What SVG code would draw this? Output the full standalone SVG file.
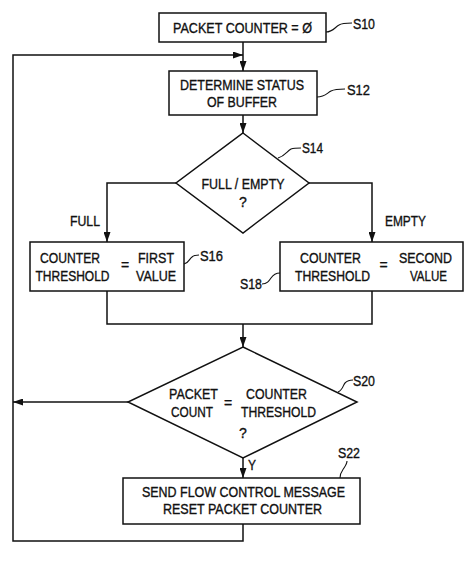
<svg xmlns="http://www.w3.org/2000/svg" width="474" height="576" viewBox="0 0 474 576">
<style>
text{font-family:"Liberation Sans",Arial,sans-serif;font-size:14px;fill:#111;stroke:#111;stroke-width:0.35;}
.c{text-anchor:middle;}
.box{fill:#fff;stroke:#111;stroke-width:1.5;}
.ln{fill:none;stroke:#111;stroke-width:1.5;}
.ld{fill:none;stroke:#111;stroke-width:1.1;}
</style>
<defs>
<marker id="ah" markerUnits="userSpaceOnUse" markerWidth="10" markerHeight="7" refX="10" refY="3.5" orient="auto">
<path d="M0,0 L10,3.5 L0,7 z" fill="#111"/>
</marker>
</defs>
<rect width="474" height="576" fill="#fff"/>
<g id="connectors">
<path class="ln" d="M243,42 V71" marker-end="url(#ah)"/>
<path class="ln" d="M243,524 V541 H13 V55 H243" marker-end="url(#ah)"/>
<path class="ln" d="M243,115 V133" marker-end="url(#ah)"/>
<path class="ln" d="M176,183 H107 V242" marker-end="url(#ah)"/>
<path class="ln" d="M309,183 H372 V242" marker-end="url(#ah)"/>
<path class="ln" d="M107,291 V324 H372 V291"/>
<path class="ln" d="M243,324 V347" marker-end="url(#ah)"/>
<path class="ln" d="M128,402 H13" marker-end="url(#ah)"/>
<path class="ln" d="M243,458 V478" marker-end="url(#ah)"/>
<text x="70" y="226" textLength="30" lengthAdjust="spacingAndGlyphs">FULL</text>
<text x="385" y="226" textLength="41" lengthAdjust="spacingAndGlyphs">EMPTY</text>
<text x="248" y="470" textLength="8" lengthAdjust="spacingAndGlyphs">Y</text>
</g>
<g id="S10">
<rect class="box" x="159" y="13" width="167" height="29"/>
<text class="c" x="242.5" y="33" textLength="139" lengthAdjust="spacingAndGlyphs">PACKET COUNTER = Ø</text>
<path class="ld" d="M326,32 C333,32 335,27 339,25 C342,23 346,23 352,23"/>
<text x="353" y="29" textLength="22" lengthAdjust="spacingAndGlyphs">S10</text>
</g>
<g id="S12">
<rect class="box" x="169" y="71" width="148" height="44"/>
<text class="c" x="242" y="90" textLength="124" lengthAdjust="spacingAndGlyphs">DETERMINE STATUS</text>
<text class="c" x="242" y="107" textLength="70" lengthAdjust="spacingAndGlyphs">OF BUFFER</text>
<path class="ld" d="M317,97 C325,97 327,93 331,91 C335,89 339,89 345,89"/>
<text x="347" y="95" textLength="23" lengthAdjust="spacingAndGlyphs">S12</text>
</g>
<g id="S14">
<polygon class="box" points="243,133 309,183 243,233 176,183"/>
<text class="c" x="243" y="189" textLength="83" lengthAdjust="spacingAndGlyphs">FULL / EMPTY</text>
<text class="c" x="243" y="207">?</text>
<path class="ld" d="M278,158 C285,156 287,151 291,149 C294,148 296,148 301,148"/>
<text x="302" y="153" textLength="21" lengthAdjust="spacingAndGlyphs">S14</text>
</g>
<g id="S16">
<rect class="box" x="30" y="242" width="154" height="49"/>
<text class="c" x="70" y="263" textLength="60" lengthAdjust="spacingAndGlyphs">COUNTER</text>
<text class="c" x="72.5" y="281" font-size="13.5" textLength="74" lengthAdjust="spacingAndGlyphs">THRESHOLD</text>
<text class="c" x="125" y="270" font-size="13">=</text>
<text class="c" x="156" y="263" textLength="36" lengthAdjust="spacingAndGlyphs">FIRST</text>
<text class="c" x="156" y="281" textLength="40" lengthAdjust="spacingAndGlyphs">VALUE</text>
<path class="ld" d="M184,264 C189,263 189,259 192,257 C194,255 196,255 199,255"/>
<text x="200" y="261" textLength="23" lengthAdjust="spacingAndGlyphs">S16</text>
</g>
<g id="S18">
<rect class="box" x="280" y="242" width="183" height="49"/>
<text class="c" x="330.5" y="263" textLength="61" lengthAdjust="spacingAndGlyphs">COUNTER</text>
<text class="c" x="332.5" y="281" textLength="75" lengthAdjust="spacingAndGlyphs">THRESHOLD</text>
<text class="c" x="383.5" y="270" font-size="13">=</text>
<text class="c" x="425.5" y="263" textLength="53" lengthAdjust="spacingAndGlyphs">SECOND</text>
<text class="c" x="428.5" y="281" textLength="37" lengthAdjust="spacingAndGlyphs">VALUE</text>
<path class="ld" d="M262,284 C267,284 269,281 271,278 C273,275 276,273 280,273"/>
<text x="240" y="289" textLength="22" lengthAdjust="spacingAndGlyphs">S18</text>
</g>
<g id="S20">
<polygon class="box" points="243,347 357,402 243,458 128,402"/>
<text class="c" x="193.5" y="399" textLength="49" lengthAdjust="spacingAndGlyphs">PACKET</text>
<text class="c" x="192" y="417" textLength="42" lengthAdjust="spacingAndGlyphs">COUNT</text>
<text class="c" x="228" y="408" font-size="13">=</text>
<text class="c" x="276.5" y="399" textLength="61" lengthAdjust="spacingAndGlyphs">COUNTER</text>
<text class="c" x="278.5" y="417" textLength="75" lengthAdjust="spacingAndGlyphs">THRESHOLD</text>
<text class="c" x="243" y="438">?</text>
<path class="ld" d="M338,392 C343,390 343,385 345,383 C347,381 349,380 353,380"/>
<text x="353" y="386" textLength="22" lengthAdjust="spacingAndGlyphs">S20</text>
</g>
<g id="S22">
<rect class="box" x="123" y="478" width="237" height="46"/>
<text class="c" x="243.5" y="497" textLength="203" lengthAdjust="spacingAndGlyphs">SEND FLOW CONTROL MESSAGE</text>
<text class="c" x="242.5" y="514" textLength="159" lengthAdjust="spacingAndGlyphs">RESET PACKET COUNTER</text>
<path class="ld" d="M340,478 C340,473 342,471 344,468 C346,465 347,463 347,461"/>
<text x="338" y="458" textLength="22" lengthAdjust="spacingAndGlyphs">S22</text>
</g>
</svg>
